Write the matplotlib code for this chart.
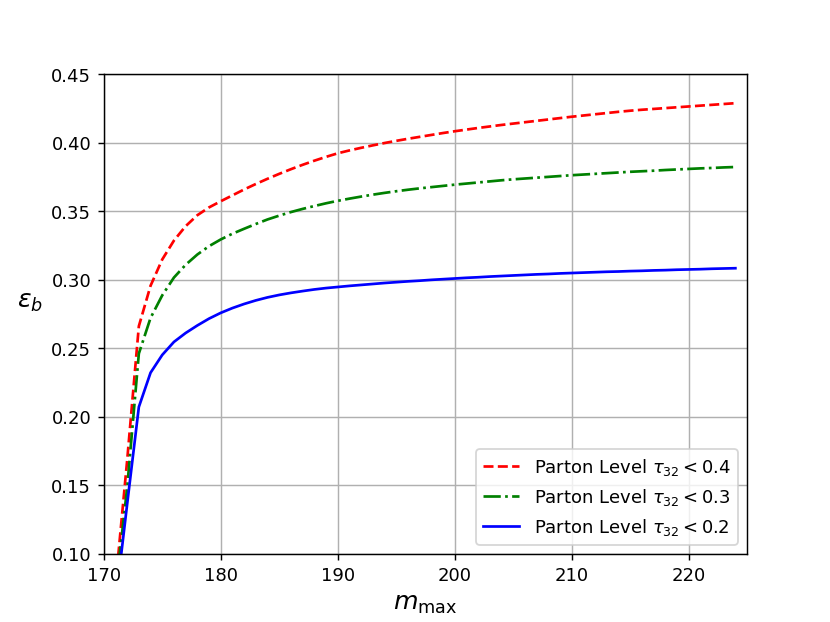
import matplotlib
matplotlib.use("Agg")
import matplotlib.pyplot as plt

m_max = list(range(171, 225))

eff_04 = [0.077, 0.168, 0.266, 0.2955, 0.3147, 0.3285, 0.3390, 0.3470, 0.3527, 0.3572,
          0.3615, 0.3658, 0.3698, 0.3736, 0.3772, 0.3806, 0.3838, 0.3868, 0.3896, 0.3922,
          0.3943, 0.3962, 0.3980, 0.3997, 0.4013, 0.4028, 0.4042, 0.4056, 0.4070, 0.4083,
          0.4095, 0.4107, 0.4118, 0.4129, 0.4139, 0.4149, 0.4159, 0.4169, 0.4179, 0.4189,
          0.4198, 0.4207, 0.4216, 0.4225, 0.4233, 0.4240, 0.4246, 0.4252, 0.4258, 0.4264,
          0.4270, 0.4276, 0.4282, 0.4288]

eff_03 = [0.072, 0.148, 0.246, 0.272, 0.2885, 0.3015, 0.3108, 0.3183, 0.3244, 0.3293,
          0.3335, 0.3371, 0.3406, 0.3439, 0.3467, 0.3493, 0.3516, 0.3537, 0.3557, 0.3575,
          0.3591, 0.3606, 0.3620, 0.3633, 0.3645, 0.3656, 0.3666, 0.3675, 0.3684, 0.3693,
          0.3701, 0.3709, 0.3717, 0.3725, 0.3732, 0.3738, 0.3744, 0.3750, 0.3756, 0.3762,
          0.3767, 0.3772, 0.3777, 0.3782, 0.3787, 0.3791, 0.3795, 0.3800, 0.3804, 0.3808,
          0.3812, 0.3815, 0.3819, 0.3822]

eff_02 = [0.064, 0.136, 0.207, 0.232, 0.245, 0.2545, 0.2610, 0.2665, 0.2715, 0.2757,
          0.2792, 0.2822, 0.2848, 0.2870, 0.2888, 0.2903, 0.2916, 0.2928, 0.2938, 0.2946,
          0.2954, 0.2961, 0.2968, 0.2975, 0.2981, 0.2987, 0.2992, 0.2998, 0.3003, 0.3008,
          0.3013, 0.3017, 0.3022, 0.3026, 0.3030, 0.3034, 0.3038, 0.3041, 0.3045, 0.3048,
          0.3051, 0.3054, 0.3057, 0.3059, 0.3062, 0.3064, 0.3067, 0.3069, 0.3072, 0.3074,
          0.3076, 0.3079, 0.3081, 0.3083]

labels = [r"Parton Level $\tau_{32} < 0.4$",
          r"Parton Level $\tau_{32} < 0.3$",
          r"Parton Level $\tau_{32} < 0.2$"]

fig, ax = plt.subplots(figsize=(6.4, 4.8), dpi=129.7)
ax.plot(m_max, eff_04, "r--", label=labels[0])
ax.plot(m_max, eff_03, "g-.", label=labels[1])
ax.plot(m_max, eff_02, "b-", label=labels[2])

ax.set_xlim(170, 225)
ax.set_ylim(0.10, 0.45)
ax.set_xticks([170, 180, 190, 200, 210, 220])
ax.grid(True)
ax.set_xlabel(r"$m_{\max}$", fontsize=14)
ax.set_ylabel(r"$\varepsilon_b$", fontsize=14, rotation=0, labelpad=12)
ax.legend(loc="lower right")

fig.savefig("out.png", dpi=129.7)
